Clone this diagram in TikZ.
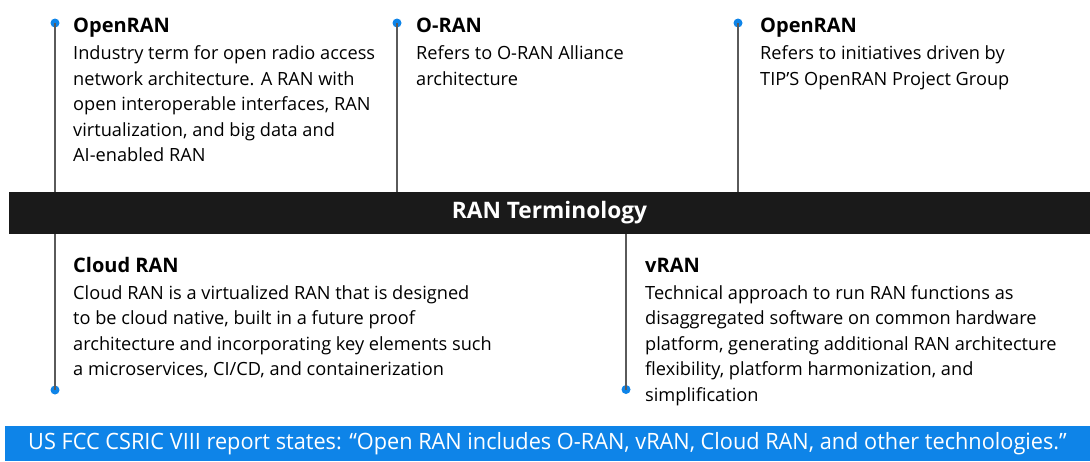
\documentclass[tikz,border=0pt]{standalone}
\usepackage{fontspec}
\setmainfont{Open Sans}
\usepackage{graphicx}
\definecolor{ranblue}{RGB}{14,132,232}
\definecolor{ranblack}{RGB}{26,26,26}
\definecolor{rangray}{RGB}{90,90,90}
\tikzset{
  stemline/.style={draw=rangray, line width=1.6pt},
  tipdot/.style={circle, fill=ranblue, inner sep=0pt, minimum size=9pt},
  termhead/.style={anchor=base west, inner sep=0pt, font=\fontsize{20}{24}\selectfont\bfseries},
  termtext/.style={anchor=north west, inner sep=0pt, align=left, font=\fontsize{18.2}{25.4}\selectfont},
}

\begin{document}
\begin{tikzpicture}[x=1pt,y=-1pt]
\useasboundingbox (0,0) rectangle (1090,461);
% middle bar and bottom note
\node[fill=ranblack, text=white, inner sep=0pt, minimum width=1081pt, minimum height=42.5pt,
      font=\fontsize{22.7}{26}\selectfont\bfseries] (termbar) at (549.5,213) {RAN Terminology};
\node[fill=ranblue, text=white, inner sep=0pt, minimum width=1085pt, minimum height=35pt,
      font=\fontsize{22.5}{26}\selectfont] (fccbar) at (547.5,443.5)
      {\scalebox{0.965}[1]{US FCC CSRIC VIII report states: “Open RAN includes O-RAN, vRAN, Cloud RAN, and other technologies.”}};

% top terms
\node[tipdot] (dotA) at (55,23) {};
\node[tipdot] (dotB) at (397,23) {};
\node[tipdot] (dotC) at (738,23) {};
\draw[stemline] (dotA.center) -- (dotA |- termbar.north);
\draw[stemline] (dotB.center) -- (dotB |- termbar.north);
\draw[stemline] (dotC.center) -- (dotC |- termbar.north);

\node[termhead] (openA) at (73,32.5) {OpenRAN};
\node[termtext] (openAtxt) at ([yshift=-13.3pt]openA.base west)
  {Industry term for open radio access\\network architecture. A RAN with\\open interoperable interfaces, RAN\\virtualization, and big data and\\AI-enabled RAN};
\node[termhead] (oran) at (416,32.5) {O-RAN};
\node[termtext] (orantxt) at ([yshift=-13.3pt]oran.base west)
  {Refers to O-RAN Alliance\\architecture};
\node[termhead] (openB) at (760,32.5) {OpenRAN};
\node[termtext] (openBtxt) at ([yshift=-13.3pt]openB.base west)
  {Refers to initiatives driven by\\TIP'S OpenRAN Project Group};

% bottom terms
\node[tipdot] (dotD) at (55,390) {};
\node[tipdot] (dotE) at (626,389.5) {};
\draw[stemline] (dotD.center) -- (dotD |- termbar.south);
\draw[stemline] (dotE.center) -- (dotE |- termbar.south);

\node[termhead] (cloud) at (73,272) {Cloud RAN};
\node[termtext] (cloudtxt) at ([yshift=-13.3pt]cloud.base west)
  {Cloud RAN is a virtualized RAN that is designed\\to be cloud native, built in a future proof\\architecture and incorporating key elements such\\a microservices, CI/CD, and containerization};
\node[termhead] (vran) at (645,272.5) {vRAN};
\node[termtext] (vrantxt) at ([yshift=-12.8pt]vran.base west)
  {Technical approach to run RAN functions as\\disaggregated software on common hardware\\platform, generating additional RAN architecture\\flexibility, platform harmonization, and\\simplification};
\end{tikzpicture}
\end{document}
